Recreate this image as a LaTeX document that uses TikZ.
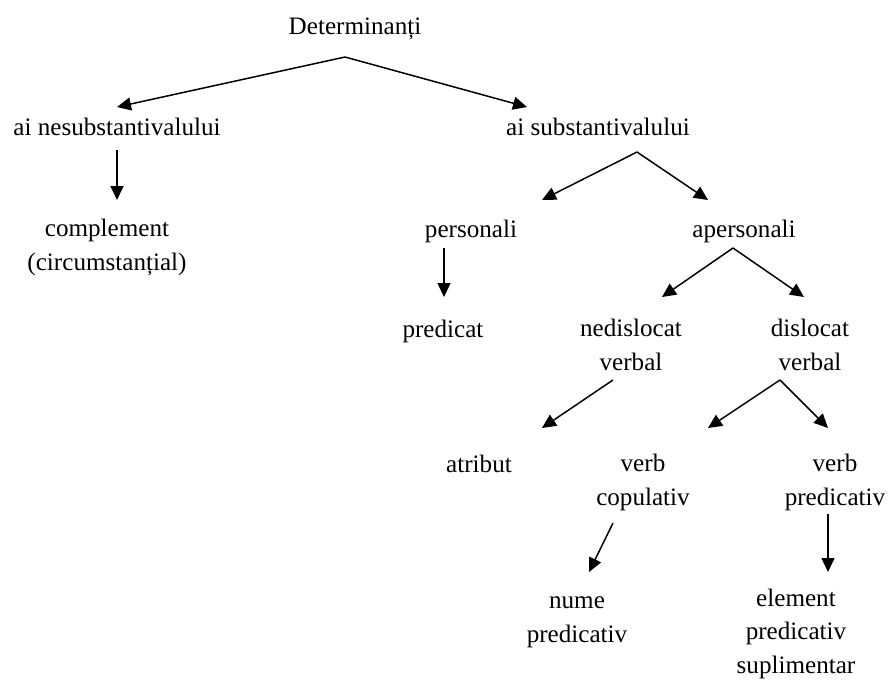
\documentclass[tikz,border=0pt]{standalone}
\usepackage{fontspec}
\setmainfont{Liberation Serif}
\usetikzlibrary{arrows.meta}

\begin{document}
\begin{tikzpicture}[x=0.02cm,y=-0.02cm,->,>={Triangle[length=0.28cm,width=0.26cm]},
                    line width=0.85pt,
                    every node/.style={font=\fontsize{14.3}{18.8}\selectfont,
                                       anchor=base,align=center,inner sep=0pt}]
  \useasboundingbox (0,0) rectangle (896,680);

  % nodes sit on the baseline of their last line
  \node (det)   at (355,34)  {Determinanți};
  \node (nes)   at (117,135) {ai nesubstantivalului};
  \node (sub)   at (598,135) {ai substantivalului};
  \node (comp)  at (107,270) {complement\\(circumstanțial)};
  \node (pers)  at (471,237) {personali};
  \node (aper)  at (744,237) {apersonali};
  \node (pred)  at (443,337) {predicat};
  \node (nedis) at (631,370) {nedislocat\\verbal};
  \node (dis)   at (810,370) {dislocat\\verbal};
  \node (atr)   at (479,472) {atribut};
  \node (vcop)  at (643,505) {verb\\copulativ};
  \node (vpred) at (835,505) {verb\\predicativ};
  \node (nume)  at (577,642) {nume\\predicativ};
  \node (elem)  at (796,673) {element\\predicativ\\suplimentar};

  \path ([shift={(-10,23)}]det.base)   edge ([shift={(0,-28)}]nes.base)
        ([shift={(-10,23)}]det.base)   edge ([shift={(-71,-28)}]sub.base)
        ([shift={(0,15)}]nes.base)     edge ([shift={(10,-70)}]comp.base)
        ([shift={(39,17)}]sub.base)    edge ([shift={(71,-37)}]pers.base)
        ([shift={(39,17)}]sub.base)    edge ([shift={(-36,-37)}]aper.base)
        ([shift={(-27,11)}]pers.base)  edge ([shift={(1,-40)}]pred.base)
        ([shift={(-11,11)}]aper.base)  edge ([shift={(31,-73)}]nedis.base)
        ([shift={(-11,11)}]aper.base)  edge ([shift={(-6,-73)}]dis.base)
        ([shift={(-18,10)}]nedis.base) edge ([shift={(63,-44)}]atr.base)
        ([shift={(-30,10)}]dis.base)   edge ([shift={(65,-77)}]vcop.base)
        ([shift={(-30,10)}]dis.base)   edge ([shift={(-7,-77)}]vpred.base)
        ([shift={(-30,18)}]vcop.base)  edge ([shift={(12,-70)}]nume.base)
        ([shift={(-7,9)}]vpred.base)   edge ([shift={(32,-101)}]elem.base);
\end{tikzpicture}
\end{document}
